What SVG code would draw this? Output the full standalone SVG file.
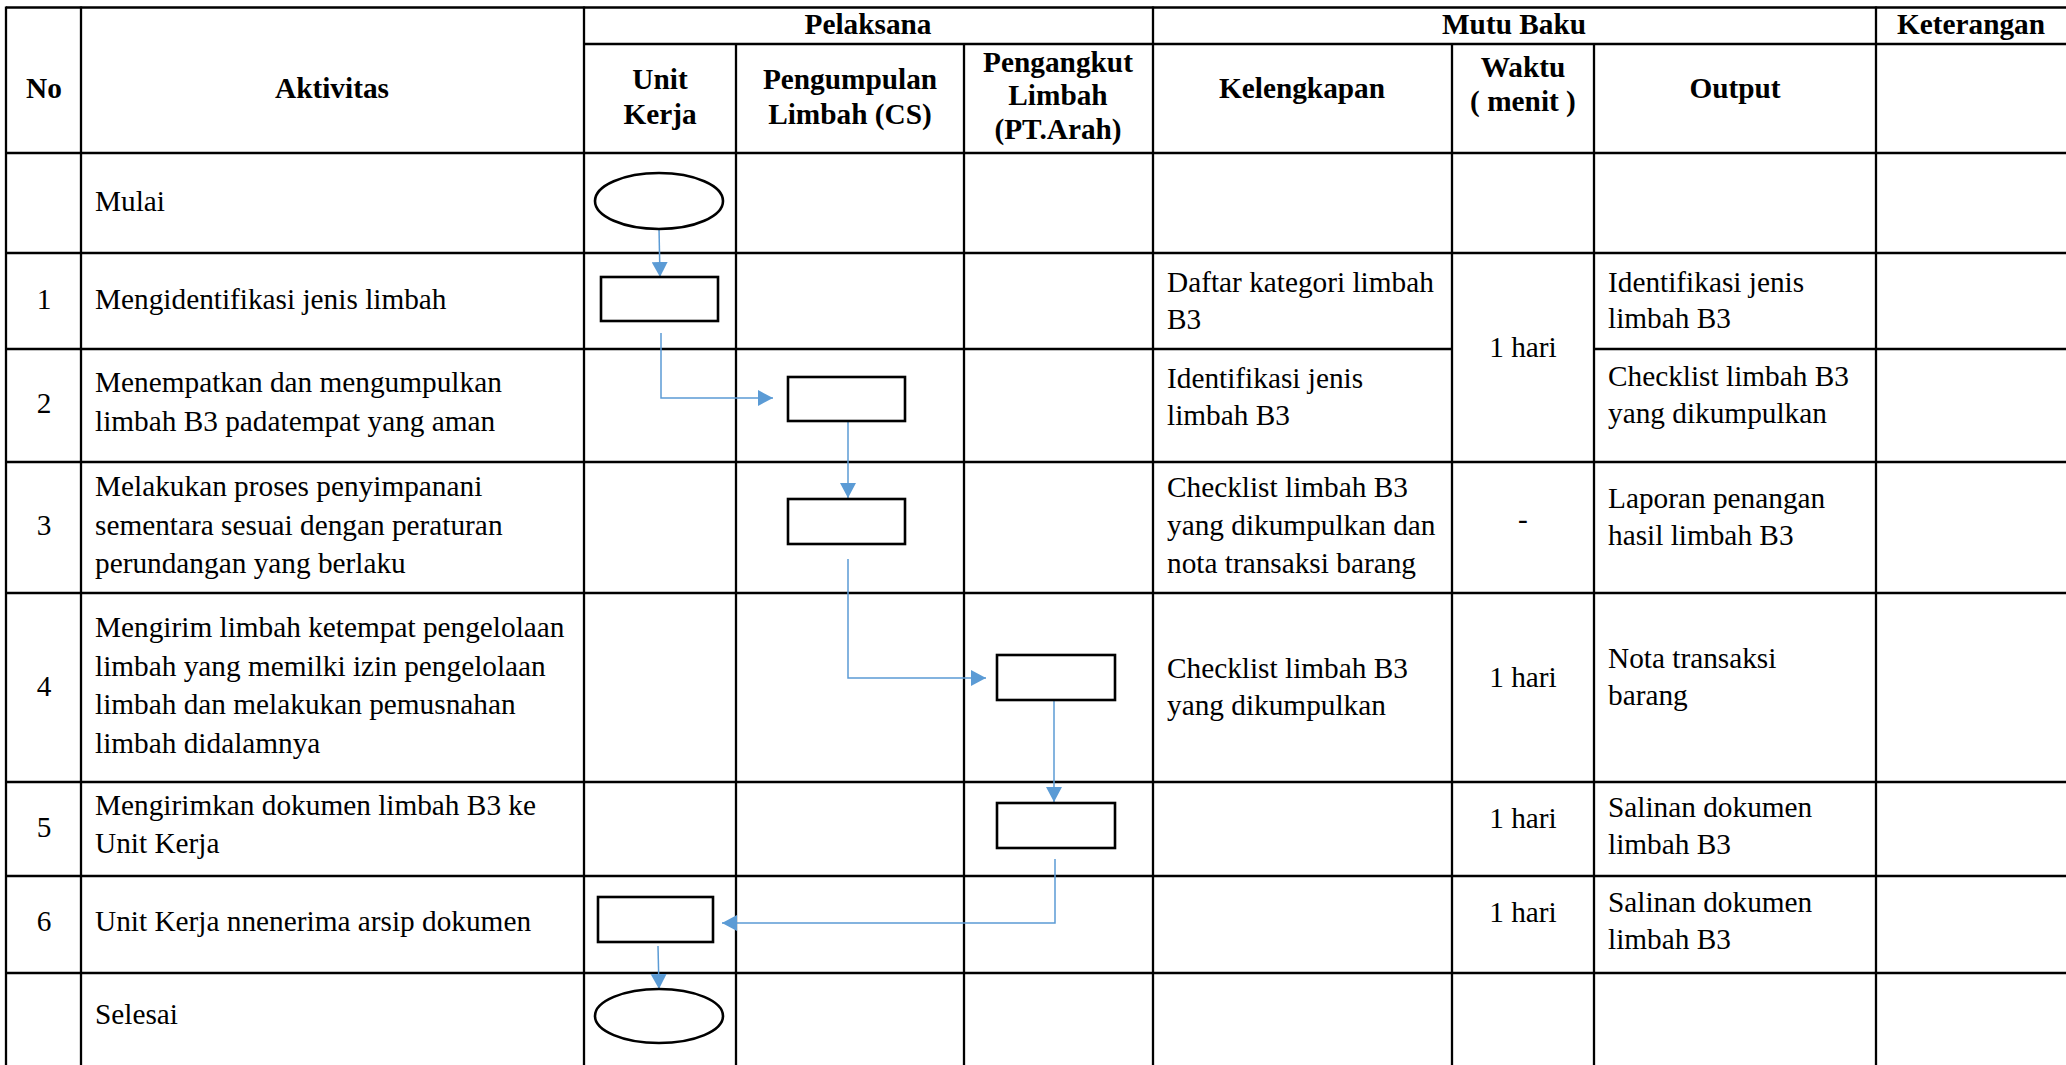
<svg xmlns="http://www.w3.org/2000/svg" width="2066" height="1065" viewBox="0 0 2066 1065">
<style>
  .grid line { stroke: #000; stroke-width: 2.3; }
  .h { font-weight: bold; text-anchor: middle; }
  .c { text-anchor: middle; }
  .node { fill: #fff; stroke: #000; stroke-width: 2.6; }
  .conn { fill: none; stroke: #5B9BD5; stroke-width: 1.5; marker-end: url(#arr); }
</style>
<defs>
  <marker id="arr" markerUnits="userSpaceOnUse" markerWidth="16" markerHeight="16" refX="15" refY="8" orient="auto">
    <path d="M0,0 L15,8 L0,16 z" fill="#5B9BD5"/>
  </marker>
</defs>
<rect width="2066" height="1065" fill="#fff"/>
<g id="grid" class="grid">
  <line x1="6" y1="7.5" x2="2066" y2="7.5"/>
  <line x1="584" y1="44" x2="2066" y2="44"/>
  <line x1="6" y1="153" x2="2066" y2="153"/>
  <line x1="6" y1="253" x2="2066" y2="253"/>
  <line x1="6" y1="349" x2="1452" y2="349"/>
  <line x1="1594" y1="349" x2="2066" y2="349"/>
  <line x1="6" y1="462" x2="2066" y2="462"/>
  <line x1="6" y1="593" x2="2066" y2="593"/>
  <line x1="6" y1="782" x2="2066" y2="782"/>
  <line x1="6" y1="876" x2="2066" y2="876"/>
  <line x1="6" y1="973" x2="2066" y2="973"/>
  <line x1="6" y1="6.5" x2="6" y2="1065"/>
  <line x1="81" y1="6.5" x2="81" y2="1065"/>
  <line x1="584" y1="6.5" x2="584" y2="1065"/>
  <line x1="736" y1="44" x2="736" y2="1065"/>
  <line x1="964" y1="44" x2="964" y2="1065"/>
  <line x1="1153" y1="6.5" x2="1153" y2="1065"/>
  <line x1="1452" y1="44" x2="1452" y2="1065"/>
  <line x1="1594" y1="44" x2="1594" y2="1065"/>
  <line x1="1876" y1="6.5" x2="1876" y2="1065"/>
</g>
<g id="header" font-family="Liberation Serif, Times New Roman, serif" font-size="29.3" fill="#000">
  <text class="h" x="44" y="98">No</text>
  <text class="h" x="332" y="98">Aktivitas</text>
  <text class="h" x="868" y="34">Pelaksana</text>
  <text class="h" x="1514" y="34">Mutu Baku</text>
  <text class="h" x="1971" y="34">Keterangan</text>
  <text class="h" x="660" y="89">Unit</text>
  <text class="h" x="660" y="124">Kerja</text>
  <text class="h" x="850" y="89">Pengumpulan</text>
  <text class="h" x="850" y="124">Limbah (CS)</text>
  <text class="h" x="1058" y="72">Pengangkut</text>
  <text class="h" x="1058" y="105">Limbah</text>
  <text class="h" x="1058" y="139">(PT.Arah)</text>
  <text class="h" x="1302" y="98">Kelengkapan</text>
  <text class="h" x="1523" y="77">Waktu</text>
  <text class="h" x="1523" y="111">( menit )</text>
  <text class="h" x="1735" y="98">Output</text>
</g>
<g id="rows" font-family="Liberation Serif, Times New Roman, serif" font-size="29.3" fill="#000">
  <text x="95" y="211">Mulai</text>

  <text class="c" x="44" y="309">1</text>
  <text x="95" y="309">Mengidentifikasi jenis limbah</text>
  <text x="1167" y="292">Daftar kategori limbah</text>
  <text x="1167" y="329">B3</text>
  <text class="c" x="1523" y="357">1 hari</text>
  <text x="1608" y="292">Identifikasi jenis</text>
  <text x="1608" y="328">limbah B3</text>

  <text class="c" x="44" y="413">2</text>
  <text x="95" y="392">Menempatkan dan mengumpulkan</text>
  <text x="95" y="431">limbah B3 padatempat yang aman</text>
  <text x="1167" y="388">Identifikasi jenis</text>
  <text x="1167" y="425">limbah B3</text>
  <text x="1608" y="386">Checklist limbah B3</text>
  <text x="1608" y="423">yang dikumpulkan</text>

  <text class="c" x="44" y="535">3</text>
  <text x="95" y="496">Melakukan proses penyimpanani</text>
  <text x="95" y="535">sementara sesuai dengan peraturan</text>
  <text x="95" y="573">perundangan yang berlaku</text>
  <text x="1167" y="497">Checklist limbah B3</text>
  <text x="1167" y="535">yang dikumpulkan dan</text>
  <text x="1167" y="573">nota transaksi barang</text>
  <text class="c" x="1523" y="529">-</text>
  <text x="1608" y="508">Laporan penangan</text>
  <text x="1608" y="545">hasil limbah B3</text>

  <text class="c" x="44" y="696">4</text>
  <text x="95" y="637">Mengirim limbah ketempat pengelolaan</text>
  <text x="95" y="676">limbah yang memilki izin pengelolaan</text>
  <text x="95" y="714">limbah dan melakukan pemusnahan</text>
  <text x="95" y="753">limbah didalamnya</text>
  <text x="1167" y="678">Checklist limbah B3</text>
  <text x="1167" y="715">yang dikumpulkan</text>
  <text class="c" x="1523" y="687">1 hari</text>
  <text x="1608" y="668">Nota transaksi</text>
  <text x="1608" y="705">barang</text>

  <text class="c" x="44" y="837">5</text>
  <text x="95" y="815">Mengirimkan dokumen limbah B3 ke</text>
  <text x="95" y="853">Unit Kerja</text>
  <text class="c" x="1523" y="828">1 hari</text>
  <text x="1608" y="817">Salinan dokumen</text>
  <text x="1608" y="854">limbah B3</text>

  <text class="c" x="44" y="931">6</text>
  <text x="95" y="931">Unit Kerja nnenerima arsip dokumen</text>
  <text class="c" x="1523" y="922">1 hari</text>
  <text x="1608" y="912">Salinan dokumen</text>
  <text x="1608" y="949">limbah B3</text>

  <text x="95" y="1024">Selesai</text>
</g>
<g id="connectors">
  <path class="conn" d="M659,228 L660,277"/>
  <path class="conn" d="M661,333 L661,398 L773,398"/>
  <path class="conn" d="M848,422 L848,498"/>
  <path class="conn" d="M848,559 L848,678 L986,678"/>
  <path class="conn" d="M1054,700 L1054,802"/>
  <path class="conn" d="M1055,859 L1055,923 L722,923"/>
  <path class="conn" d="M658,946 L659,989"/>
</g>
<g id="start"><ellipse class="node" cx="659" cy="201" rx="64" ry="28"/></g>
<g id="n1"><rect class="node" x="601" y="277" width="117" height="44"/></g>
<g id="n2"><rect class="node" x="788" y="377" width="117" height="44"/></g>
<g id="n3"><rect class="node" x="788" y="499" width="117" height="45"/></g>
<g id="n4"><rect class="node" x="997" y="655" width="118" height="45"/></g>
<g id="n5"><rect class="node" x="997" y="803" width="118" height="45"/></g>
<g id="n6"><rect class="node" x="598" y="897" width="115" height="45"/></g>
<g id="end"><ellipse class="node" cx="659" cy="1016" rx="64" ry="27"/></g>
</svg>
